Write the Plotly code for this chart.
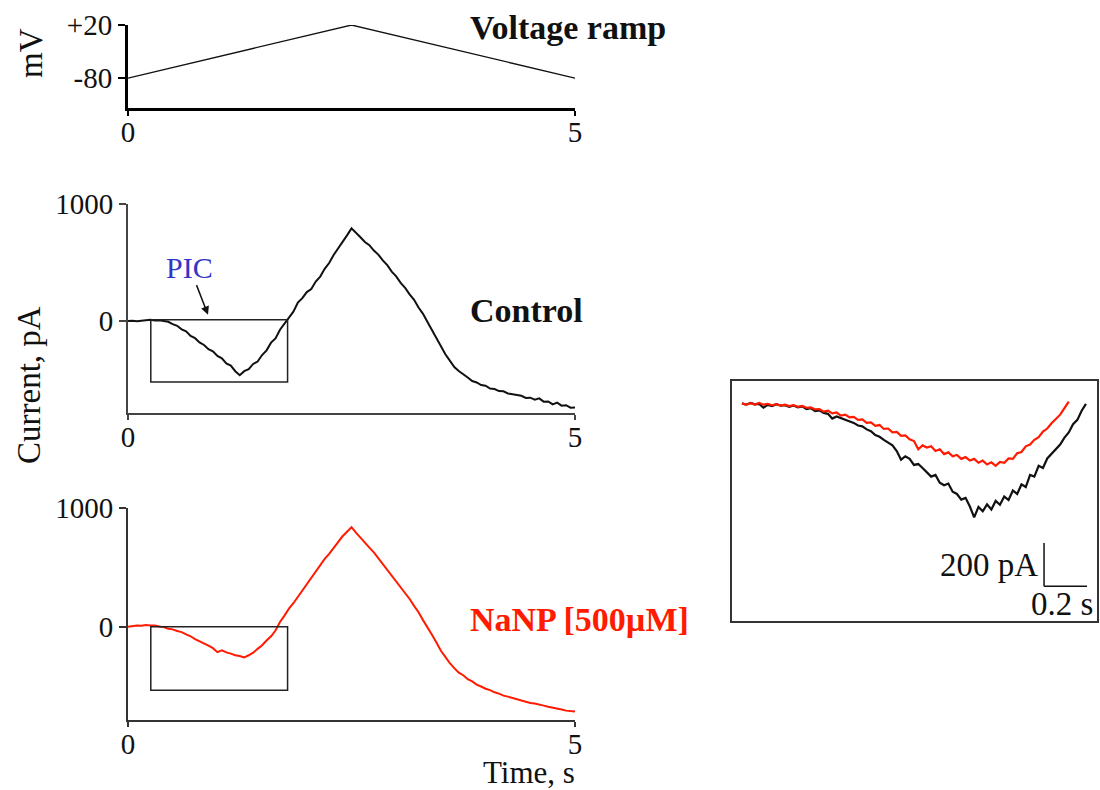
import plotly.graph_objects as go

# ---------------- data ----------------
ramp_t = [0, 2.5, 5]
ramp_mv = [-80, 20, -80]

time_s = [
    0.00, 0.05, 0.10, 0.15, 0.20, 0.25, 0.30, 0.35, 0.40, 0.45,
    0.50, 0.55, 0.60, 0.65, 0.70, 0.75, 0.80, 0.85, 0.90, 0.95,
    1.00, 1.05, 1.10, 1.15, 1.20, 1.25, 1.30, 1.35, 1.40, 1.45,
    1.50, 1.55, 1.60, 1.65, 1.70, 1.75, 1.80, 1.85, 1.90, 1.95,
    2.00, 2.05, 2.10, 2.15, 2.20, 2.25, 2.30, 2.35, 2.40, 2.45,
    2.50, 2.55, 2.60, 2.65, 2.70, 2.75, 2.80, 2.85, 2.90, 2.95,
    3.00, 3.05, 3.10, 3.15, 3.20, 3.25, 3.30, 3.35, 3.40, 3.45,
    3.50, 3.55, 3.60, 3.65, 3.70, 3.75, 3.80, 3.85, 3.90, 3.95,
    4.00, 4.05, 4.10, 4.15, 4.20, 4.25, 4.30, 4.35, 4.40, 4.45,
    4.50, 4.55, 4.60, 4.65, 4.70, 4.75, 4.80, 4.85, 4.90, 4.95,
    5.00,
]

control_pA = [
    0, 3, -2, 6, 8, 12, 5, 8, -2, -6,
    -26, -40, -70, -88, -126, -146, -182, -204, -240, -258,
    -298, -318, -362, -380, -428, -462, -428, -410, -366, -346,
    -290, -250, -184, -148, -74, -20, 36, 80, 158, 196,
    248, 274, 338, 380, 446, 496, 564, 618, 678, 732,
    792, 758, 716, 676, 648, 602, 568, 518, 478, 422,
    382, 326, 284, 228, 182, 116, 62, -8, -78, -152,
    -218, -284, -338, -392, -426, -458, -482, -512, -524, -546,
    -552, -576, -580, -598, -600, -618, -624, -632, -638, -656,
    -654, -672, -660, -688, -686, -712, -696, -722, -718, -740,
    -738,
]

nanp_pA = [
    0, 6, 10, 8, 14, 10, 11, 3, -3, -16,
    -22, -36, -45, -64, -80, -104, -120, -142, -158, -180,
    -214, -198, -216, -226, -240, -246, -258, -240, -218, -186,
    -156, -116, -80, -32, 40, 94, 152, 198, 252, 303,
    362, 413, 472, 518, 572, 613, 667, 713, 762, 798,
    838, 792, 748, 712, 666, 627, 578, 537, 486, 437,
    383, 337, 283, 234, 176, 122, 56, -3, -67, -133,
    -202, -253, -307, -348, -387, -408, -442, -460, -487, -503,
    -522, -533, -552, -563, -580, -588, -600, -608, -622, -630,
    -642, -646, -658, -664, -674, -680, -692, -696, -706, -708,
    -714,
]

# PIC window (boxes) in s / pA
pic_t0, pic_t1 = 0.255, 1.785
pic_ctrl_top, pic_ctrl_bottom = 12, -520
pic_nanp_top, pic_nanp_bottom = 0, -535

# Inset: expanded PIC window (time from start of window, s; current, pA)
inset_t = [
    0.00, 0.02, 0.04, 0.06, 0.08, 0.10, 0.12, 0.14, 0.16, 0.18,
    0.20, 0.22, 0.24, 0.26, 0.28, 0.30, 0.32, 0.34, 0.36, 0.38,
    0.40, 0.42, 0.44, 0.46, 0.48, 0.50, 0.52, 0.54, 0.56, 0.58,
    0.60, 0.62, 0.64, 0.66, 0.68, 0.70, 0.72, 0.74, 0.76, 0.78,
    0.80, 0.82, 0.84, 0.86, 0.88, 0.90, 0.92, 0.94, 0.96, 0.98,
    1.00, 1.02, 1.04, 1.06, 1.08, 1.10, 1.12, 1.14, 1.16, 1.18,
    1.20, 1.22, 1.24, 1.26, 1.28, 1.30, 1.32, 1.34, 1.36, 1.38,
    1.40, 1.42, 1.44, 1.46, 1.48, 1.50, 1.52, 1.54, 1.56, 1.58,
    1.60,
]
inset_control_pA = [
    -2, -8, 0, -6, -4, -22, -9, -14, -6, -12,
    -10, -18, -12, -20, -16, -28, -24, -38, -34, -46,
    -50, -72, -62, -70, -78, -86, -92, -104, -108, -122,
    -130, -148, -156, -170, -184, -196, -222, -262, -246, -258,
    -286, -282, -300, -318, -340, -332, -368, -380, -372, -410,
    -420, -446, -438, -478, -528, -480, -500, -468, -492, -452,
    -470, -432, -448, -404, -420, -376, -388, -332, -340, -290,
    -300, -256, -236, -212, -192, -160, -136, -98, -78, -36,
    -4,
]
inset_nanp_pA = [
    -2, -8, -1, -7, 0, -8, -4, -11, -6, -12,
    -8, -14, -10, -18, -14, -22, -20, -30, -28, -40,
    -36, -48, -44, -58, -54, -66, -64, -78, -76, -92,
    -90, -106, -102, -120, -118, -136, -134, -152, -150, -168,
    -176, -214, -196, -206, -200, -222, -214, -236, -228, -246,
    -240, -258, -250, -266, -258, -276, -266, -284, -274, -290,
    -272, -276, -256, -258, -232, -226, -200, -192, -170, -158,
    -132, -118, -94, -76, -54, -24, 6,
]

# scale bar (s, pA)
bar_t0, bar_len_s = 1.405, 0.2
bar_i0, bar_len_pA = -846, 200

# ---------------- figure ----------------
W, H = 1100, 790
FONT = "Liberation Serif"
BLACK = "#111111"
RED = "#ff1a00"


def px(x):
    return x / W


def py(y):
    return 1 - y / H


fig = go.Figure()

fig.add_trace(go.Scatter(x=ramp_t, y=ramp_mv, mode="lines",
                         line=dict(color=BLACK, width=1.3),
                         xaxis="x", yaxis="y", showlegend=False))
fig.add_trace(go.Scatter(x=time_s, y=control_pA, mode="lines",
                         line=dict(color=BLACK, width=2),
                         xaxis="x2", yaxis="y2", showlegend=False))
fig.add_trace(go.Scatter(x=time_s, y=nanp_pA, mode="lines",
                         line=dict(color=RED, width=2),
                         xaxis="x3", yaxis="y3", showlegend=False))
fig.add_trace(go.Scatter(x=inset_t, y=inset_control_pA, mode="lines",
                         line=dict(color=BLACK, width=2.2),
                         xaxis="x4", yaxis="y4", showlegend=False))
fig.add_trace(go.Scatter(x=inset_t[:len(inset_nanp_pA)], y=inset_nanp_pA, mode="lines",
                         line=dict(color=RED, width=2.2),
                         xaxis="x4", yaxis="y4", showlegend=False))

xdom = [px(128), px(575)]
tickfont = dict(family=FONT, size=29, color="#111111")


def xax(anchor, lw, lc):
    return dict(domain=xdom, range=[0, 5], anchor=anchor, showgrid=False,
                zeroline=False, showline=True, linewidth=lw, linecolor=lc,
                ticks="outside", ticklen=5, tickwidth=1.5, tickcolor=lc,
                tickvals=[0, 5], ticktext=["0", "5"], tickfont=tickfont,
                automargin=False, ticklabelstandoff=-8)


def yax(anchor, dom, rng, vals, texts, lw, lc):
    return dict(domain=dom, range=rng, anchor=anchor, showgrid=False,
                zeroline=False, showline=True, linewidth=lw, linecolor=lc,
                ticks="outside", ticklen=7, tickwidth=1.5, tickcolor=lc,
                tickvals=vals, ticktext=texts, tickfont=tickfont,
                automargin=False)


fig.update_layout(
    width=W, height=H, margin=dict(l=0, r=0, t=0, b=0, pad=0, autoexpand=False),
    paper_bgcolor="white", plot_bgcolor="white",
    xaxis=xax("y", 3, "#000000"),
    yaxis=yax("x", [py(107.5), py(25)], [-135.2, 20], [20, -80], ["+20", "-80"], 3, "#000000"),
    xaxis2=xax("y2", 2, "#444444"),
    yaxis2=yax("x2", [py(413), py(204)], [-785, 1000], [0, 1000], ["0", "1000"], 2, "#444444"),
    xaxis3=xax("y3", 2, "#333333"),
    yaxis3=yax("x3", [py(720), py(508)], [-785, 1000], [0, 1000], ["0", "1000"], 2, "#333333"),
    xaxis4=dict(domain=[px(731), px(1098)], range=[-0.051, 1.656], anchor="y4",
                visible=False, automargin=False),
    yaxis4=dict(domain=[py(622), py(380)], range=[-1011, 106], anchor="x4",
                visible=False, automargin=False),
)

# PIC boxes
fig.add_shape(type="rect", xref="x2", yref="y2", x0=pic_t0, x1=pic_t1,
              y0=pic_ctrl_bottom, y1=pic_ctrl_top, line=dict(color="#222222", width=1.5))
fig.add_shape(type="rect", xref="x3", yref="y3", x0=pic_t0, x1=pic_t1,
              y0=pic_nanp_bottom, y1=pic_nanp_top, line=dict(color="#222222", width=1.5))

# inset frame
fig.add_shape(type="rect", xref="paper", yref="paper", x0=px(731), x1=px(1098),
              y0=py(622), y1=py(380), line=dict(color="#333333", width=2))

# scale bar
fig.add_shape(type="line", xref="x4", yref="y4", x0=bar_t0, x1=bar_t0,
              y0=bar_i0, y1=bar_i0 + bar_len_pA, line=dict(color="#111111", width=1.5))
fig.add_shape(type="line", xref="x4", yref="y4", x0=bar_t0, x1=bar_t0 + bar_len_s,
              y0=bar_i0, y1=bar_i0, line=dict(color="#111111", width=1.5))

lab = dict(family=FONT, size=34, color="#111111")
ttl = dict(family=FONT, size=33, color="#111111")
ann = []
ann.append(dict(text="<b>Voltage ramp</b>", xref="paper", yref="paper", x=px(468), y=py(28),
                xanchor="left", yanchor="middle", showarrow=False, font=lab))
ann.append(dict(text="<b>Control</b>", xref="paper", yref="paper", x=px(468), y=py(310),
                xanchor="left", yanchor="middle", showarrow=False, font=lab))
ann.append(dict(text="<b>NaNP [500µM]</b>", xref="paper", yref="paper", x=px(468), y=py(619),
                xanchor="left", yanchor="middle", showarrow=False,
                font=dict(family=FONT, size=34, color=RED)))
ann.append(dict(text="mV", xref="paper", yref="paper", x=px(31), y=py(53),
                xanchor="center", yanchor="middle", textangle=-90, showarrow=False, font=ttl))
ann.append(dict(text="Current, pA", xref="paper", yref="paper", x=px(29), y=py(385),
                xanchor="center", yanchor="middle", textangle=-90, showarrow=False, font=ttl))
ann.append(dict(text="Time, s", xref="paper", yref="paper", x=px(577), y=py(772),
                xanchor="right", yanchor="middle", showarrow=False,
                font=dict(family=FONT, size=31, color="#111111")))
ann.append(dict(text="PIC", xref="x2", yref="y2", x=0.69, y=455,
                xanchor="center", yanchor="middle", showarrow=False,
                font=dict(family=FONT, size=30, color="#3434c8")))
ann.append(dict(text="", xref="x2", yref="y2", x=0.895, y=55, axref="x2", ayref="y2",
                ax=0.76, ay=320, showarrow=True, arrowhead=2, arrowsize=1.1,
                arrowwidth=1.5, arrowcolor="#111111"))
ann.append(dict(text="200 pA", xref="x4", yref="y4", x=1.386, y=-748,
                xanchor="right", yanchor="middle", showarrow=False, font=ttl))
ann.append(dict(text="0.2 s", xref="x4", yref="y4", x=1.49, y=-930,
                xanchor="center", yanchor="middle", showarrow=False, font=ttl))
fig.update_layout(annotations=ann)

fig.write_html("out.html")
